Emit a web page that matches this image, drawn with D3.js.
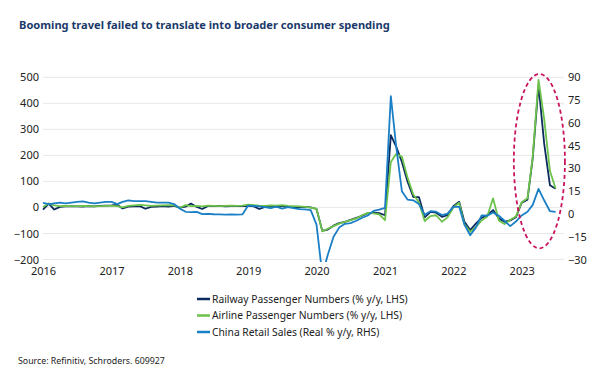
<!DOCTYPE html>
<html>
<head>
<meta charset="utf-8">
<script src="https://cdn.jsdelivr.net/npm/d3@7"></script>
<style>
  body { margin: 0; background: #fff; }
  #chart1 text { font-family: "Noto Sans", "Open Sans", sans-serif; }
</style>
</head>
<body>
<div id="chart1"></div>
<script>
// monthly data, Jan 2016 .. Jul 2023
var years = [2016, 2017, 2018, 2019, 2020, 2021, 2022, 2023];

var railway = [
  -8, 15, -8, 2, 4, 5, 4, 3, 5, 4, 6, 7,
  8, 10, -4, 3, 4, 5, -5, 2, 3, 5, 3, 6,
  -1, 3, 15, 2, -6, 6, 5, 6, 4, 5, 6, 5,
  6, 4, -6, 2, 4, 3, 6, 2, 1, 0, 2, 0,
  -6, -90, -85, -70, -60, -55, -48, -40, -32, -22, -20, -22,
  -30, 278, 235, 175, 100, 40, 40, -38, -17, -20, -36, -30,
  5, 22, -55, -87, -62, -40, -30, -10, -42, -55, -50, -38,
  18, 30, 190, 470, 246, 85, 72
];

var airline = [
  2, 15, 8, 5, 6, 5, 5, 6, 5, 4, 5, 6,
  6, 5, 0, 6, 8, 10, 8, 6, 7, 8, 9, 8,
  -1, 9, 5, 6, 4, 7, 6, 5, 6, 7, 6, 7,
  11, 9, 7, 6, 8, 7, 9, 6, 5, 4, 2, -1,
  -5, -92, -82, -72, -62, -55, -49, -42, -30, -21, -23, -27,
  -49, 175, 205, 195, 115, 50, 20, -52, -33, -30, -55, -38,
  0, 18, -65, -94, -76, -50, -35, 35, -50, -64, -47, -35,
  20, 35, 195, 490, 340, 140, 73
];

var retail = [
  7.3, 6.5, 7, 7.5, 7, 7.5, 8, 8.3, 7.5, 7, 7.5, 8,
  8, 6.5, 8, 9, 8.5, 8.5, 8.5, 8, 7.5, 7.5, 7.5, 6.5,
  3.5, 1.4, 1.2, 1.4, -0.1, 0, -0.2, -0.3, -0.4, -0.3, -0.4, -0.3,
  5.5, 5.3, 5, 4.5, 3.8, 4.8, 3.5, 4.5, 3.8, 3.2, 3, 2.5,
  -7, -40, -27, -15, -9, -6.5, -6, -4.5, -2.5, -1, 2, 2.8,
  4, 77.6, 45, 15, 9.5, 9, 6.5, -0.5, 1.8, 1.5, -0.7, 0.2,
  4.7, 4.7, -7, -14, -9, -1, -1.2, 1, -1.2, -4.5, -8, -5,
  -1, 1.5, 6, 16.5, 9, 1.8, 1.4
];

var leftTicks = [-200, -100, 0, 100, 200, 300, 400, 500];
var rightTicks = [-30, -15, 0, 15, 30, 45, 60, 75, 90];

var seriesNames = ["Railway Passenger Numbers (% y/y, LHS)",
                   "Airline Passenger Numbers (% y/y, LHS)",
                   "China Retail Sales (Real % y/y, RHS)"];
var seriesColors = ["#0b2b5e", "#6cc24a", "#1b7fc6"];

var W = 602, H = 384;
// plot box (note: "top" is taken by window.top)
var pLeft = 43, pRight = 564, pTop = 77.3, pBottom = 259.5;

var svg = d3.select("#chart1").append("svg")
  .attr("width", W)
  .attr("height", H);

var dates = railway.map(function(d, i) { return new Date(2016, i, 1); });

var x = d3.scaleTime()
  .domain([new Date(2016, 0, 1), new Date(2023, 7, 15)])
  .range([pLeft, pRight]);

var yL = d3.scaleLinear().domain([-200, 500]).range([pBottom, pTop]);
var yR = d3.scaleLinear().domain([-30, 90]).range([pBottom, pTop]);

// title
svg.append("text")
  .attr("x", 19)
  .attr("y", 29)
  .attr("font-size", 11.1)
  .attr("font-weight", 700)
  .attr("fill", "#1b3a6b")
  .text("Booming travel failed to translate into broader consumer spending");

// gridlines
svg.append("g").selectAll("line")
  .data(leftTicks)
  .enter().append("line")
  .attr("x1", pLeft)
  .attr("x2", pRight)
  .attr("y1", function(d) { return yL(d); })
  .attr("y2", function(d) { return yL(d); })
  .attr("stroke", "#e8e8e8")
  .attr("stroke-width", 1);

// left axis
var axL = svg.append("g")
  .attr("transform", "translate(" + (pLeft - 4) + ",0)")
  .call(d3.axisLeft(yL).tickValues(leftTicks).tickSize(0).tickPadding(0));
axL.select(".domain").remove();

// right axis
var axR = svg.append("g")
  .attr("transform", "translate(" + (pRight + 4) + ",0)")
  .call(d3.axisRight(yR).tickValues(rightTicks).tickSize(0).tickPadding(0));
axR.select(".domain").remove();

// x axis
var axX = svg.append("g")
  .attr("transform", "translate(0," + (pBottom + 3) + ")")
  .call(d3.axisBottom(x)
    .tickValues(years.map(function(y) { return new Date(y, 0, 1); }))
    .tickFormat(d3.timeFormat("%Y"))
    .tickSize(0).tickPadding(5));
axX.select(".domain").remove();

svg.selectAll(".tick text")
  .attr("font-size", 11)
  .attr("fill", "#222")
  .style("font-family", "'Noto Sans', sans-serif");

// clip so the covid dip doesn't run into the labels
svg.append("clipPath").attr("id", "plotclip")
  .append("rect")
  .attr("x", pLeft - 2)
  .attr("y", 60)
  .attr("width", pRight - pLeft + 4)
  .attr("height", 262 - 60);

var lineL = d3.line()
  .x(function(d, i) { return x(dates[i]); })
  .y(function(d) { return yL(d); });

var lineR = d3.line()
  .x(function(d, i) { return x(dates[i]); })
  .y(function(d) { return yR(d); });

var plot = svg.append("g").attr("clip-path", "url(#plotclip)");

plot.append("path")
  .datum(railway)
  .attr("d", lineL)
  .attr("fill", "none")
  .attr("stroke", seriesColors[0])
  .attr("stroke-width", 1.8)
  .attr("stroke-linejoin", "round");

plot.append("path")
  .datum(airline)
  .attr("d", lineL)
  .attr("fill", "none")
  .attr("stroke", seriesColors[1])
  .attr("stroke-width", 1.8)
  .attr("stroke-linejoin", "round");

plot.append("path")
  .datum(retail)
  .attr("d", lineR)
  .attr("fill", "none")
  .attr("stroke", seriesColors[2])
  .attr("stroke-width", 1.8)
  .attr("stroke-linejoin", "round");

// dashed ellipse round the 2023 spike
var eX0 = x(new Date(2022, 10, 20)), eX1 = x(new Date(2023, 7, 20));
svg.append("ellipse")
  .attr("cx", (eX0 + eX1) / 2)
  .attr("cy", (yL(513) + yL(-157)) / 2)
  .attr("rx", (eX1 - eX0) / 2)
  .attr("ry", (yL(-157) - yL(513)) / 2)
  .attr("fill", "none")
  .attr("stroke", "#c8155f")
  .attr("stroke-width", 1.8)
  .attr("stroke-dasharray", "4,3");

// legend
var legend = svg.selectAll(".legend")
  .data(seriesNames)
  .enter().append("g")
  .attr("class", "legend")
  .attr("transform", function(d, i) { return "translate(197," + (299 + i * 16.5) + ")"; });

legend.append("line")
  .attr("x1", 0)
  .attr("x2", 13)
  .attr("stroke", function(d, i) { return seriesColors[i]; })
  .attr("stroke-width", 2.5);

legend.append("text")
  .attr("x", 15)
  .attr("dy", "0.35em")
  .attr("font-size", 10.3)
  .attr("fill", "#222")
  .text(function(d) { return d; });

// source
svg.append("text")
  .attr("x", 18)
  .attr("y", 364)
  .attr("font-size", 8.8)
  .attr("fill", "#222")
  .text("Source: Refinitiv, Schroders. 609927");
</script>
</body>
</html>
